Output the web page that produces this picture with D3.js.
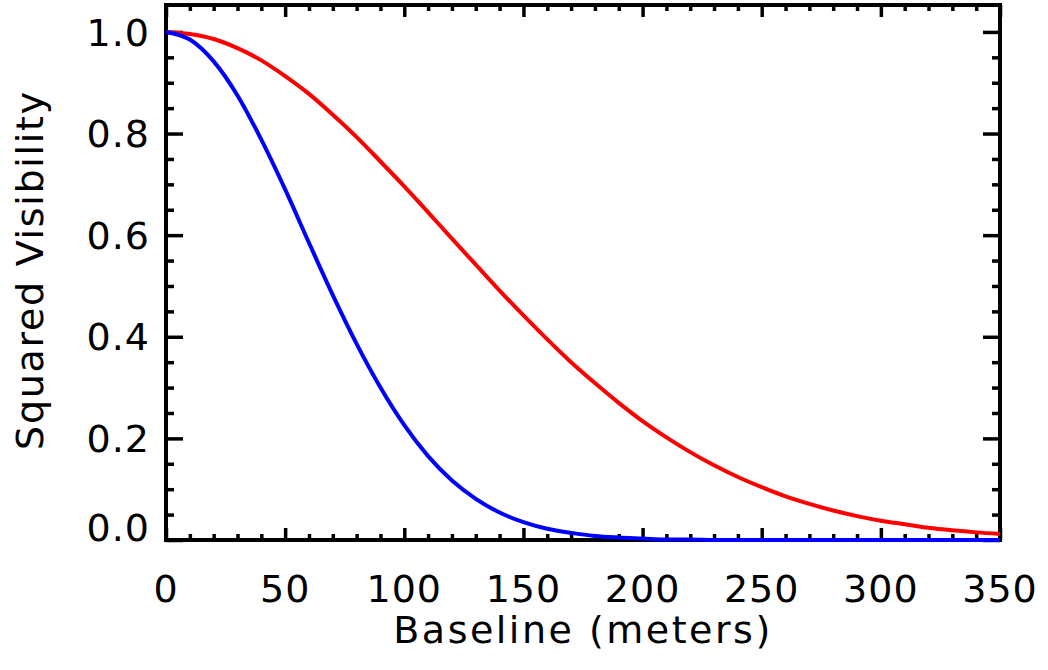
<!DOCTYPE html>
<html>
<head>
  <meta charset='utf-8'>
  <title>Squared Visibility vs Baseline</title>
  <style>
    body { margin: 0; background: #ffffff; }
    text { font-family: 'DejaVu Sans', sans-serif; fill: #000000; }
  </style>
  <script src='https://cdn.jsdelivr.net/npm/d3@7/dist/d3.min.js'></script>
</head>
<body>
  <svg id='chart' width='1048' height='670'></svg>
  <script>
    // values, every 10 m
    const baseline = [0, 10, 20, 30, 40, 50, 60, 70, 80, 90, 100, 110, 120,
        130, 140, 150, 160, 170, 180, 190, 200, 210, 220, 230, 240, 250,
        260, 270, 280, 290, 300, 310, 320, 330, 340, 350];
    const visRed = [1.000, 0.996, 0.986, 0.968, 0.944, 0.913, 0.878, 0.837,
        0.793, 0.745, 0.696, 0.645, 0.593, 0.542, 0.491, 0.442, 0.395, 0.350,
        0.309, 0.270, 0.234, 0.202, 0.173, 0.147, 0.124, 0.104, 0.086, 0.071,
        0.058, 0.047, 0.038, 0.031, 0.024, 0.019, 0.015, 0.012];
    const visBlue = [1.000, 0.985, 0.942, 0.875, 0.788, 0.690, 0.585, 0.482,
        0.386, 0.300, 0.226, 0.165, 0.117, 0.081, 0.054, 0.035, 0.022, 0.014,
        0.008, 0.005, 0.003, 0.001, 0.001, 0, 0, 0, 0, 0, 0, 0, 0, 0, 0, 0,
        0, 0];
    const xMajor = [0, 50, 100, 150, 200, 250, 300, 350];
    const yMajor = [0.0, 0.2, 0.4, 0.6, 0.8, 1.0];

    const margin = { top: 5, right: 48, bottom: 130, left: 166 };
    const svg = d3.select('#chart');
    const width = +svg.attr('width') - margin.left - margin.right;
    const height = +svg.attr('height') - margin.top - margin.bottom;
    const base = svg.append('g')
        .attr('transform', `translate(${margin.left}, ${margin.top})`);

    const x = d3.scaleLinear().domain([0, 350]).range([0, width]);
    const y = d3.scaleLinear().domain([0, 1.053]).range([height, 0]);

    const xMinor = d3.range(0, 351, 10).filter(v => v % 50 !== 0);
    const yMinor = d3.range(0, 21).map(i => i * 0.05)
        .filter((v, i) => i % 4 !== 0);

    // inward ticks on all four sides
    function ticks(axis, vals, size, transform) {
        const g = base.append('g')
            .attr('transform', transform)
            .call(axis.tickValues(vals).tickSize(-size).tickFormat(''));
        g.select('.domain').remove();
        g.selectAll('line').attr('stroke', '#000').attr('stroke-width', 3.5);
    }
    ticks(d3.axisBottom(x), xMajor, 12, `translate(0, ${height})`);
    ticks(d3.axisBottom(x), xMinor, 6, `translate(0, ${height})`);
    ticks(d3.axisTop(x), xMajor, 12, 'translate(0, 0)');
    ticks(d3.axisTop(x), xMinor, 6, 'translate(0, 0)');
    ticks(d3.axisLeft(y), yMajor, 17, 'translate(0, 0)');
    ticks(d3.axisLeft(y), yMinor, 8, 'translate(0, 0)');
    ticks(d3.axisRight(y), yMajor, 17, `translate(${width}, 0)`);
    ticks(d3.axisRight(y), yMinor, 8, `translate(${width}, 0)`);

    base.append('rect')
        .attr('width', width)
        .attr('height', height)
        .attr('fill', 'none')
        .attr('stroke', '#000')
        .attr('stroke-width', 4);

    // tick labels
    base.selectAll('.xlab').data(xMajor).enter().append('text')
        .attr('x', d => x(d))
        .attr('y', height + 62)
        .attr('text-anchor', 'middle')
        .attr('font-size', 38)
        .attr('letter-spacing', 1)
        .text(d => d);
    base.selectAll('.ylab').data(yMajor).enter().append('text')
        .attr('x', -16)
        .attr('y', d => y(d) + (d === 0 ? -13 : 0))
        .attr('dy', '0.36em')
        .attr('text-anchor', 'end')
        .attr('font-size', 38)
        .attr('letter-spacing', 1)
        .text(d => d3.format('.1f')(d));

    // axis titles
    base.append('text')
        .attr('x', width / 2)
        .attr('y', height + 103)
        .attr('text-anchor', 'middle')
        .attr('font-size', 38)
        .attr('letter-spacing', 2.5)
        .text('Baseline (meters)');
    base.append('text')
        .attr('transform', `translate(${43 - margin.left}, ${270 - margin.top}) rotate(-90)`)
        .attr('text-anchor', 'middle')
        .attr('font-size', 38)
        .attr('letter-spacing', 1.7)
        .text('Squared Visibility');

    // curves
    const line = d3.line()
        .x(d => x(d[0]))
        .y(d => y(d[1]))
        .curve(d3.curveMonotoneX);
    [[visRed, '#ff0000'], [visBlue, '#0000ff']].forEach(([vals, color]) => {
        base.append('path')
            .datum(baseline.map((b, i) => [b, vals[i]]))
            .attr('fill', 'none')
            .attr('stroke', color)
            .attr('stroke-width', 4)
            .attr('d', line);
    });
  </script>
</body>
</html>
